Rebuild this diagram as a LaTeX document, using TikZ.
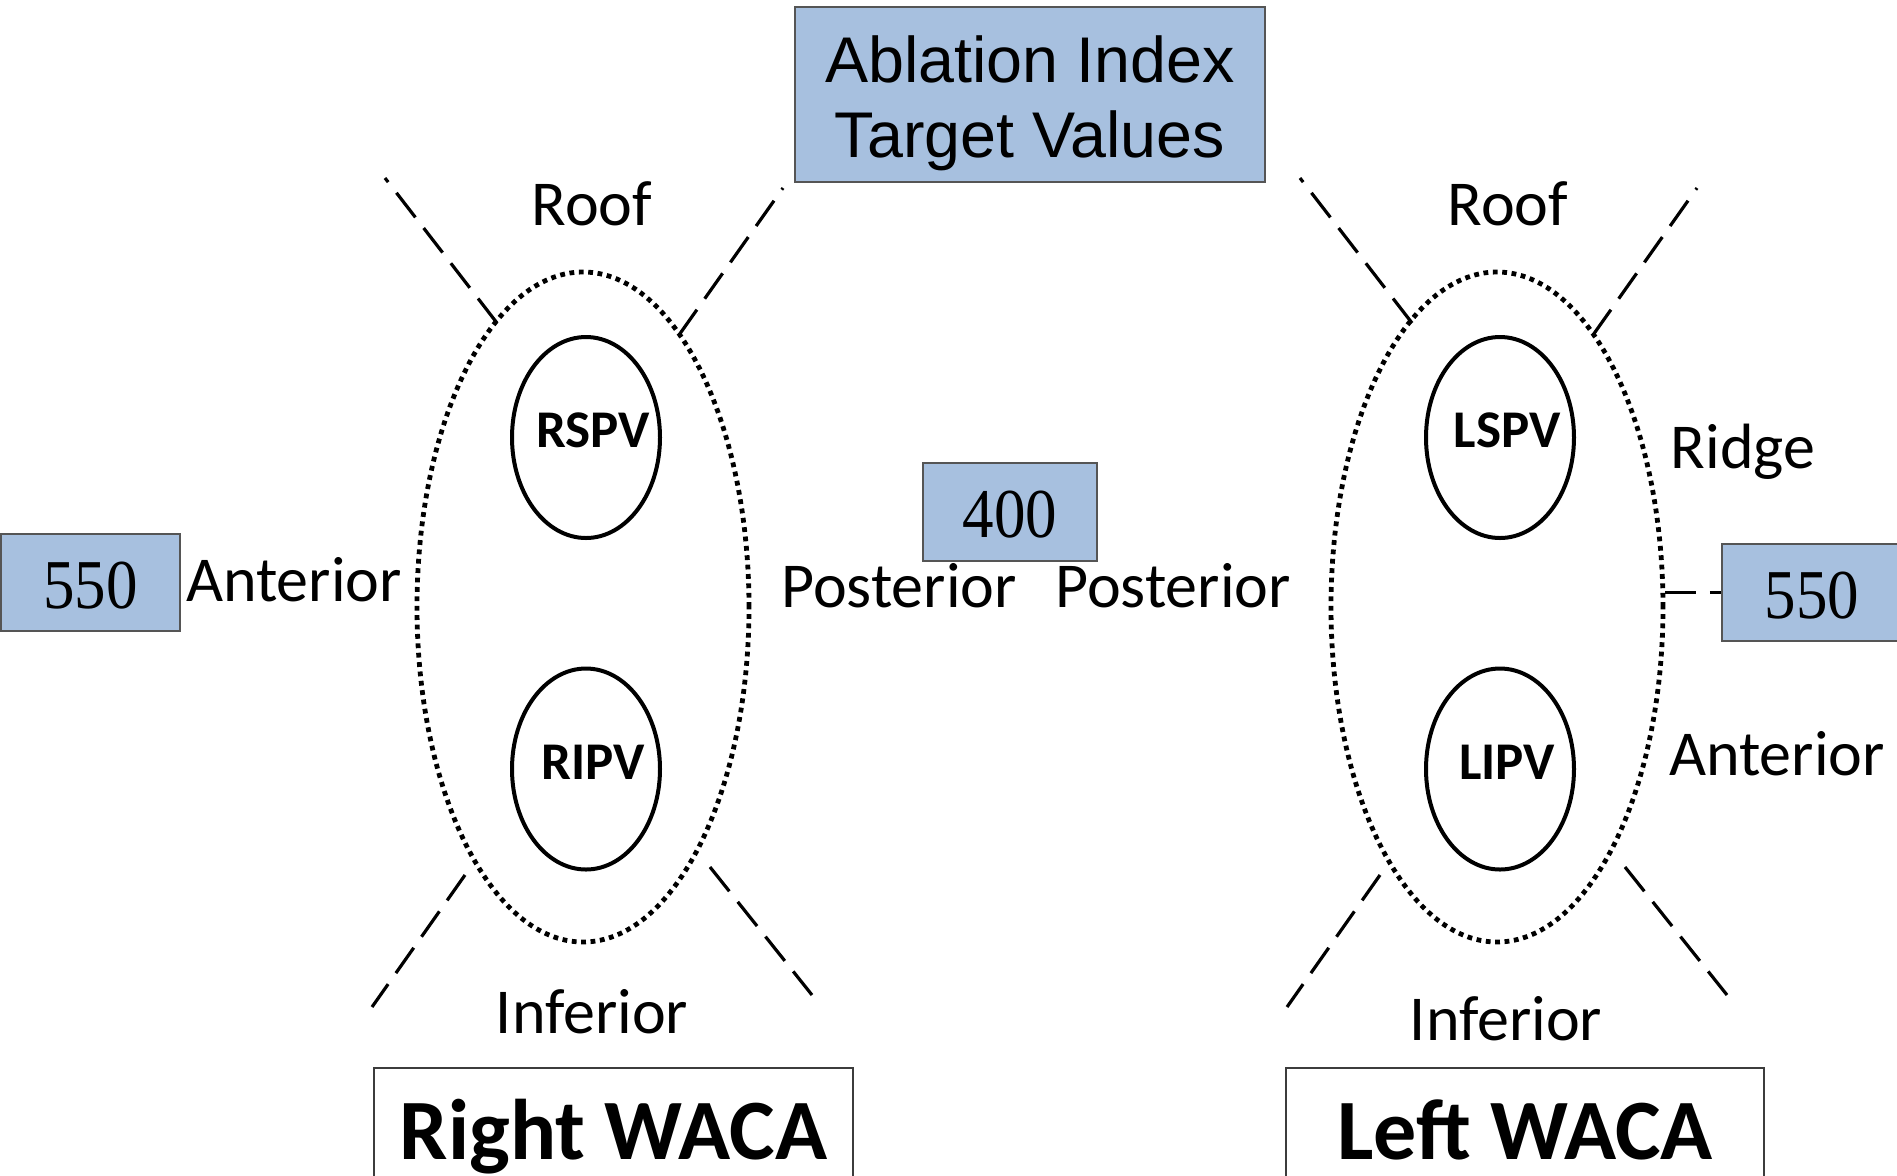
\documentclass[tikz,border=0pt]{standalone}
\usepackage{fontspec}
\setmainfont{Carlito}
\newfontfamily\arialf{Liberation Sans}
\newfontfamily\timesf[FakeStretch=0.9]{Liberation Serif}
\usetikzlibrary{shapes.geometric}
\definecolor{boxblue}{RGB}{167,192,223}
\definecolor{boxedge}{RGB}{85,85,85}
\definecolor{wacaedge}{RGB}{60,60,60}
\begin{document}
\begin{tikzpicture}[x=0.5pt,y=-0.5pt,
  lbl/.style={anchor=base, inner sep=0pt, font=\fontsize{32pt}{36pt}\selectfont},
  bluebox/.style={draw=boxedge, line width=1pt, fill=boxblue, inner sep=0pt},
  numbox/.style={bluebox, font=\timesf\fontsize{35pt}{40pt}\selectfont, text height=25.5pt, text depth=0pt},
  titletext/.style={anchor=base, inner sep=0pt, font=\arialf\fontsize{32.3pt}{36pt}\selectfont},
  bigell/.style={ellipse, draw, line width=2.4pt, dash pattern=on 2.4pt off 2.3pt, minimum width=166pt, minimum height=335pt, inner sep=0pt},
  pv/.style={ellipse, draw, line width=2pt, minimum width=74pt, minimum height=100.5pt, inner xsep=-16pt, inner ysep=0pt, font=\bfseries\fontsize{26.5pt}{30pt}\selectfont, text height=16.5pt, text depth=6.5pt, execute at begin node=\hspace*{7pt}},
  zone/.style={dash pattern=on 15.5pt off 6.75pt, line width=1.6pt},
  waca/.style={draw=wacaedge, line width=1pt, inner sep=0pt, minimum height=91pt, font=\bfseries\fontsize{43pt}{48pt}\selectfont, text height=40pt, text depth=40pt}
]
\useasboundingbox (0,0) rectangle (1897,1175);
\clip (0,0) rectangle (1897,1175);

% title
\node[bluebox, minimum width=235pt, minimum height=87.5pt] (title) at (1030,94.5) {};
\node[titletext] (title1) at (1030,82) {Ablation Index};
\node[titletext] (title2) at (1030,157) {Target Values};

% value boxes
\node[numbox, minimum width=89.5pt, minimum height=48.5pt] (l550) at (90.5,582.5) {550};
\node[numbox, minimum width=87pt, minimum height=49pt, text height=25pt] (v400) at (1010,512) {400};
\node[numbox, minimum width=90pt, minimum height=48.5pt] (r550) at (1812,592.5) {550};

% big dotted ellipses
\node[bigell] (bigL) at (583,607) {};
\node[bigell] (bigR) at (1497,607) {};

% pulmonary veins
\node[pv] (rspv) at (586,437.5) {RSPV};
\node[pv] (ripv) at (586,769) {RIPV};
\node[pv] (lspv) at (1500,437.5) {LSPV};
\node[pv] (lipv) at (1500,769) {LIPV};

% labels
\node[lbl] (roofL) at (592,225) {Roof};
\node[lbl] (infL) at (592,1033) {Inferior};
\node[lbl] (antL) at (294,601) {Anterior};
\node[lbl] (postL) at (899,607) {Posterior};
\node[lbl] (postR) at (1173,607) {Posterior};
\node[lbl] (roofR) at (1508,225) {Roof};
\node[lbl] (infR) at (1506,1040) {Inferior};
\node[lbl] (ridge) at (1743,468) {Ridge};
\node[lbl] (antR) at (1777,775) {Anterior};

% WACA boxes
\node[waca, minimum width=239.5pt] (rwaca) at (613.5,1159) {Right WACA};
\node[waca, minimum width=239pt] (lwaca) at (1525,1159) {Left WACA};

% segment boundaries (left)
\coordinate (Ltli) at (497,323);  \coordinate (Ltlo) at (385,178);
\coordinate (Ltri) at (679,335);  \coordinate (Ltro) at (783,188);
\coordinate (Lbli) at (465,875);  \coordinate (Lblo) at (372,1007);
\coordinate (Lbri) at (710,867);  \coordinate (Lbro) at (812,995);
% segment boundaries (right)
\coordinate (Rtli) at (1412,323); \coordinate (Rtlo) at (1300,178);
\coordinate (Rtri) at (1593,335); \coordinate (Rtro) at (1697,188);
\coordinate (Rbli) at (1380,875); \coordinate (Rblo) at (1287,1007);
\coordinate (Rbri) at (1625,867); \coordinate (Rbro) at (1727,995);

\draw[zone] (Ltli) -- (Ltlo);
\draw[zone] (Ltri) -- (Ltro);
\draw[zone] (Lbli) -- (Lblo);
\draw[zone] (Lbri) -- (Lbro);
\draw[zone] (Rtli) -- (Rtlo);
\draw[zone] (Rtri) -- (Rtro);
\draw[zone] (Rbli) -- (Rblo);
\draw[zone] (Rbri) -- (Rbro);

% ridge connector
\draw[zone] (r550.west -| bigR.east) -- (r550.west);
\end{tikzpicture}
\end{document}
